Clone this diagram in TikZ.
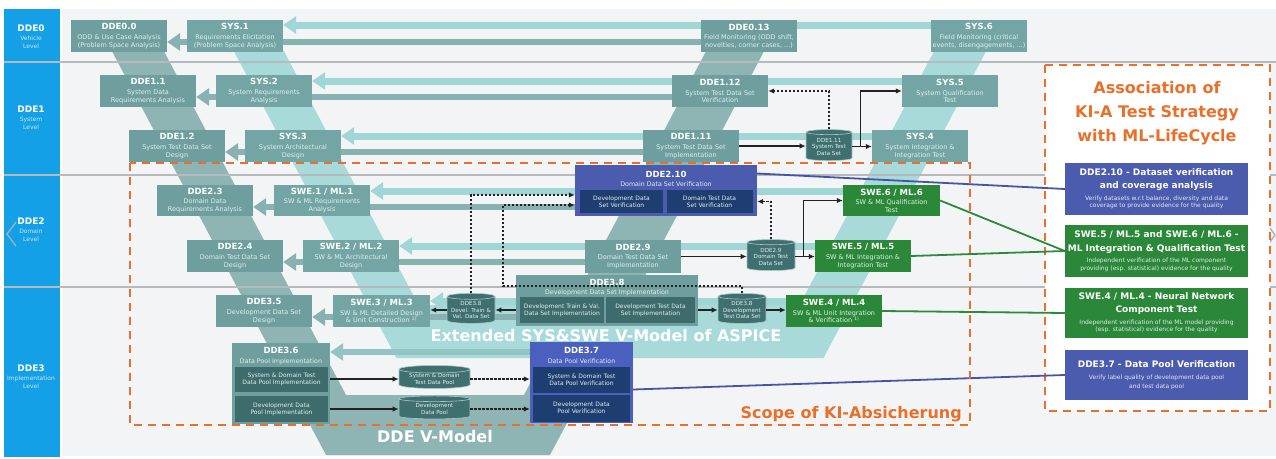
\documentclass[tikz,border=0pt]{standalone}
\usepackage{fontspec}
\setmainfont{DejaVu Sans}
\usetikzlibrary{arrows.meta,shapes.geometric,calc}

% palette
\definecolor{panel}{HTML}{F3F4F5}
\definecolor{colblue}{HTML}{14A0E6}
\definecolor{colsub}{HTML}{C8E8FA}
\definecolor{levelline}{HTML}{B5BABE}
\definecolor{ddeband}{HTML}{8FB4B4}
\definecolor{sysband}{HTML}{A8DADA}
\definecolor{boxfill}{HTML}{6F9E9E}
\definecolor{sysfill}{HTML}{73A5A4}
\definecolor{subtxt}{HTML}{E2EEEE}
\definecolor{lightarr}{HTML}{A0D6D6}
\definecolor{darkarr}{HTML}{88B1B1}
\definecolor{midarr}{HTML}{92C4C4}
\definecolor{cylfill}{HTML}{3F6F6F}
\definecolor{cylline}{HTML}{A9C7C7}
\definecolor{innerfill}{HTML}{3E6C6C}
\definecolor{verblue}{HTML}{4B5BAD}
\definecolor{verbluetwo}{HTML}{4B5FBE}
\definecolor{navyfill}{HTML}{1E3D70}
\definecolor{mlgreen}{HTML}{2A8838}
\definecolor{kiorange}{HTML}{E8702A}
\definecolor{linkblue}{HTML}{4654A8}
\definecolor{linkgreen}{HTML}{2B8A3C}
\definecolor{conn}{HTML}{222222}
\definecolor{notetxt}{HTML}{E4E8F4}
\definecolor{chevron}{HTML}{9FB2C2}

\newcommand\boxtitle[1]{{\fontsize{8.5}{9}\selectfont\bfseries #1}}
\newcommand\boxsub[1]{{\color{subtxt}#1}}
\newcommand\lvltitle[1]{{\fontsize{9}{10}\selectfont\bfseries #1}}
\newcommand\lvlsub[1]{{\color{colsub}#1}}
\newcommand\assochead[1]{{\fontsize{9}{10}\selectfont\bfseries #1}}
\newcommand\assocnote[1]{{\color{notetxt}#1}}

% drawing layers: panel and bands, wide flow arrows, everything else
\pgfdeclarelayer{bottom}
\pgfdeclarelayer{arrowlayer}
\pgfsetlayers{bottom,arrowlayer,main}

\tikzset{
  vbox/.style={rectangle, fill=boxfill, text=white, inner sep=0pt, align=center,
    minimum width=96pt, minimum height=32pt, font=\fontsize{6.5}{7.6}\selectfont},
  sysbox/.style={vbox, fill=sysfill},
  mlbox/.style={vbox, fill=mlgreen},
  framebox/.style={rectangle, inner sep=0pt},
  caption/.style={inner sep=0pt, text=white, font=\fontsize{6.3}{7}\selectfont},
  innerbox/.style={rectangle, fill=innerfill, text=subtxt, inner sep=0pt, align=center,
    font=\fontsize{6}{7.2}\selectfont},
  navybox/.style={innerbox, fill=navyfill},
  store/.style={cylinder, shape border rotate=90, aspect=0.15, fill=cylfill, draw=cylline,
    line width=0.6pt, text=subtxt, inner sep=0pt, align=center, font=\fontsize{5.6}{6.5}\selectfont},
  flow/.style={draw=conn, line width=1.2pt, -{Latex[length=6pt,width=5.5pt]}},
  trace/.style={flow, dash pattern=on 2.4pt off 1.6pt},
  lightflow/.style={draw=lightarr, line width=7pt, -{Triangle[length=13pt,width=17pt]}},
  darkflow/.style={draw=darkarr, line width=6pt, -{Triangle[length=13pt,width=17pt]}},
  scopeline/.style={draw=kiorange, line width=2.5pt, dash pattern=on 8pt off 6pt},
  levelrule/.style={draw=levelline, line width=1.4pt},
  lvl/.style={inner sep=0pt, align=center, text=white, font=\fontsize{6}{8.5}\selectfont},
  assoc/.style={rectangle, fill=verblue, text=white, inner sep=0pt, align=center,
    minimum width=183pt, font=\fontsize{6}{7.6}\selectfont},
  bigtext/.style={inner sep=0pt, font=\fontsize{16}{24}\selectfont\bfseries},
}

\begin{document}
\begin{tikzpicture}[x=1pt,y=-1pt]
\useasboundingbox (0,0) rectangle (1276,458);

\begin{pgfonlayer}{bottom}
\fill[white] (0,0) rectangle (1276,458);
% background panel and level column
\fill[panel] (62,9) rectangle (1276,456);
\fill[colblue] (4,9) rectangle (60,457);
\draw[chevron, line width=1.3pt] (16,222) -- (7,234) -- (16,246);
\draw[chevron, line width=1.3pt] (1267,224) -- (1275,235) -- (1267,246);
% the two V bands
\fill[ddeband] (106,40) -- (158,40) -- (346,395) -- (524,395) -- (712,40) -- (770,40)
  -- (550,455) -- (326,455) -- cycle;
\fill[sysband] (228,40) -- (278,40) -- (418.5,305) -- (799.5,305) -- (940,40) -- (992,40)
  -- (823.5,358) -- (396.5,358) -- cycle;
% level separators
\draw[levelrule] (4,62) -- (1276,62);
\draw[levelrule] (4,175) -- (1276,175);
\draw[levelrule] (4,287) -- (1276,287);
\end{pgfonlayer}

% level labels
\node[lvl] (lv0) at (31,37) {\lvltitle{DDE0}\\\lvlsub{Vehicle}\\\lvlsub{Level}};
\node[lvl] (lv1) at (31,118) {\lvltitle{DDE1}\\\lvlsub{System}\\\lvlsub{Level}};
\node[lvl] (lv2) at (31,230) {\lvltitle{DDE2}\\\lvlsub{Domain}\\\lvlsub{Level}};
\node[lvl] (lv3) at (31,377) {\lvltitle{DDE3}\\\lvlsub{Implementation}\\\lvlsub{Level}};

\node[bigtext, text=white] (vsys) at (606,336) {Extended SYS\&SWE V-Model of ASPICE};
\node[bigtext, text=white] (vdde) at (435,437) {DDE V-Model};

% ---------- boxes ----------
\node[vbox] (dde00) at (119,36) {\boxtitle{DDE0.0}\\[2pt]\boxsub{ODD \& Use Case Analysis}\\\boxsub{(Problem Space Analysis)}};
\node[sysbox] (sys1) at (235,36) {\boxtitle{SYS.1}\\[2pt]\boxsub{Requirements Elicitation}\\\boxsub{(Problem Space Analysis)}};
\node[vbox] (dde013) at (749,36) {\boxtitle{DDE0.13}\\[2pt]\boxsub{Field Monitoring (ODD shift,}\\\boxsub{novelties, corner cases, ...)}};
\node[sysbox] (sys6) at (979,36) {\boxtitle{SYS.6}\\[2pt]\boxsub{Field Monitoring (critical}\\\boxsub{events, disengagements, ...)}};

\node[vbox] (dde11) at (148,91) {\boxtitle{DDE1.1}\\[2pt]\boxsub{System Data}\\\boxsub{Requirements Analysis}};
\node[sysbox] (sys2) at (264,91) {\boxtitle{SYS.2}\\[2pt]\boxsub{System Requirements}\\\boxsub{Analysis}};
\node[vbox] (dde112) at (720,91) {\boxtitle{DDE1.12}\\[2pt]\boxsub{System Test Data Set}\\\boxsub{Verification}};
\node[sysbox] (sys5) at (950,91) {\boxtitle{SYS.5}\\[2pt]\boxsub{System Qualification}\\\boxsub{Test}};

\node[vbox] (dde12) at (177,146) {\boxtitle{DDE1.2}\\[2pt]\boxsub{System Test Data Set}\\\boxsub{Design}};
\node[sysbox] (sys3) at (293,146) {\boxtitle{SYS.3}\\[2pt]\boxsub{System Architectural}\\\boxsub{Design}};
\node[vbox] (dde111) at (691,146) {\boxtitle{DDE1.11}\\[2pt]\boxsub{System Test Data Set}\\\boxsub{Implementation}};
\node[store, minimum width=46pt, minimum height=31pt] (cylA) at (829,146.5) {DDE1.11\\System Test\\Data Set};
\node[sysbox] (sys4) at (920,146) {\boxtitle{SYS.4}\\[2pt]\boxsub{System Integration \&}\\\boxsub{Integration Test}};

\node[vbox, minimum height=31pt] (dde23) at (205,200.5) {\boxtitle{DDE2.3}\\[2pt]\boxsub{Domain Data}\\\boxsub{Requirements Analysis}};
\node[sysbox, minimum height=31pt] (swe1) at (322,200.5) {\boxtitle{SWE.1 / ML.1}\\[2pt]\boxsub{SW \& ML Requirements}\\\boxsub{Analysis}};
\node[framebox, fill=verblue, minimum width=182pt, minimum height=51pt] (dde210) at (666,190.5) {};
\node[caption] (dde210t) at (666,174) {\boxtitle{DDE2.10}};
\node[caption] (dde210s) at (666,184.5) {\boxsub{Domain Data Set Verification}};
\node[navybox, minimum width=83pt, minimum height=23pt] (dde210a) at (621.5,201.5) {Development Data\\Set Verification};
\node[navybox, minimum width=86pt, minimum height=23pt] (dde210b) at (709.5,201.5) {Domain Test Data\\Set Verification};
\node[mlbox, minimum width=97pt, minimum height=31pt] (swe6) at (891.5,200.5) {\boxtitle{SWE.6 / ML.6}\\[2pt]\boxsub{SW \& ML Qualification}\\\boxsub{Test}};

\node[vbox] (dde24) at (235,256) {\boxtitle{DDE2.4}\\[2pt]\boxsub{Domain Test Data Set}\\\boxsub{Design}};
\node[sysbox] (swe2) at (351,256) {\boxtitle{SWE.2 / ML.2}\\[2pt]\boxsub{SW \& ML Architectural}\\\boxsub{Design}};
\node[vbox, minimum height=33pt] (dde29) at (633,256.5) {\boxtitle{DDE2.9}\\[2pt]\boxsub{Domain Test Data Set}\\\boxsub{Implementation}};
\node[store, minimum width=48pt, minimum height=31pt] (cylB) at (771,256.5) {DDE2.9\\Domain Test\\Data Set};
\node[mlbox] (swe5) at (863,256) {\boxtitle{SWE.5 / ML.5}\\[2pt]\boxsub{SW \& ML Integration \&}\\\boxsub{Integration Test}};

\node[vbox] (dde35) at (264,311) {\boxtitle{DDE3.5}\\[2pt]\boxsub{Development Data Set}\\\boxsub{Design}};
\node[sysbox, minimum width=97pt] (swe3) at (381.5,311) {\boxtitle{SWE.3 / ML.3}\\[2pt]\boxsub{SW \& ML Detailed Design}\\\boxsub{\& Unit Construction \textsuperscript{1)}}};
\node[store, minimum width=48pt, minimum height=30pt] (cylC) at (471,310) {DDE3.8\\Devel. Train \&\\Val. Data Set};
\node[framebox, fill=boxfill, minimum width=182pt, minimum height=51pt] (dde38) at (607,300.5) {};
\node[caption] (dde38t) at (607,282) {\boxtitle{DDE3.8}};
\node[caption] (dde38s) at (607,293) {\boxsub{Development Data Set Implementation}};
\node[innerbox, minimum width=84pt, minimum height=26pt] (dde38a) at (562,310) {Development Train \& Val.\\Data Set Implementation};
\node[innerbox, minimum width=89pt, minimum height=26pt] (dde38b) at (650.5,310) {Development Test Data\\Set Implementation};
\node[store, minimum width=48pt, minimum height=30pt] (cylD) at (742,310) {DDE3.8\\Development\\Test Data Set};
\node[mlbox] (swe4) at (834,311) {\boxtitle{SWE.4 / ML.4}\\[2pt]\boxsub{SW \& ML Unit Integration}\\\boxsub{\& Verification \textsuperscript{1)}}};

\node[framebox, fill=boxfill, minimum width=98pt, minimum height=81pt] (dde36) at (281,383.5) {};
\node[caption] (dde36t) at (281,350) {\boxtitle{DDE3.6}};
\node[caption] (dde36s) at (281,361.5) {\boxsub{Data Pool Implementation}};
\node[innerbox, minimum width=93pt, minimum height=25pt] (dde36a) at (281.5,379.5) {System \& Domain Test\\Data Pool Implementation};
\node[innerbox, minimum width=93pt, minimum height=26pt] (dde36b) at (281.5,409) {Development Data\\Pool Implementation};
\node[store, minimum width=71pt, minimum height=23pt] (cylE) at (434.5,379) {System \& Domain\\Test Data Pool};
\node[store, minimum width=71pt, minimum height=23pt] (cylF) at (434.5,409) {Development\\Data Pool};
\node[framebox, fill=verbluetwo, minimum width=103pt, minimum height=81pt] (dde37) at (581.5,382.5) {};
\node[caption] (dde37t) at (581.5,350) {\boxtitle{DDE3.7}};
\node[caption] (dde37s) at (581.5,361) {\boxsub{Data Pool Verification}};
\node[navybox, minimum width=97pt, minimum height=26pt] (dde37a) at (581.5,379.5) {System \& Domain Test\\Data Pool Verification};
\node[navybox, minimum width=97pt, minimum height=27pt] (dde37b) at (581.5,408) {Development Data\\Pool Verification};

% ---------- wide flow arrows, right side back to left side (behind the boxes) ----------
\begin{pgfonlayer}{arrowlayer}
\draw[lightflow] (sys6.west |- 0,25) -- (sys1.east |- 0,25);
\draw[darkflow] (dde013.west |- 0,42) -- (dde00.east |- 0,42);
\draw[lightflow] (sys5.west |- 0,81) -- (sys2.east |- 0,81);
\draw[darkflow] (dde112.west |- 0,97) -- (dde11.east |- 0,97);
\draw[lightflow] (sys4.west |- 0,136) -- (sys3.east |- 0,136);
\draw[darkflow] (dde111.west |- 0,152) -- (dde12.east |- 0,152);
\draw[lightflow] (swe6.west |- 0,191) -- (swe1.east |- 0,191);
\draw[darkflow] (dde210.west |- 0,207) -- (dde23.east |- 0,207);
\draw[lightflow] (swe5.west |- 0,246) -- (swe2.east |- 0,246);
\draw[darkflow] (dde29.west |- 0,262) -- (dde24.east |- 0,262);
\draw[lightflow] (swe4.west |- 0,301) -- (swe3.east |- 0,301);
\draw[darkflow] (dde38.west |- 0,317) -- (dde35.east |- 0,317);
\draw[darkflow, draw=midarr] (dde37.west |- 0,352) -- (dde36.east |- 0,352);
\end{pgfonlayer}

% ---------- connectors ----------
\draw[flow] (dde111.east) -- (dde111.east -| cylA.west);
\draw[flow] (cylA.east) -- (cylA.east -| sys4.west);
\draw[flow] (cylA.east) -- ++(8,0) |- (sys5.west);
\draw[trace] (cylA.north) |- (dde112.east);

\draw[flow] (dde29.east) -- (dde29.east -| cylB.west);
\draw[flow] (cylB.east) -- (cylB.east -| swe5.west);
\draw[flow] (cylB.east) -- ++(8,0) |- (swe6.west);
\coordinate (in210r) at (dde210.east |- dde210b.center);
\draw[trace] (cylB.north) |- (in210r);

\draw[flow] (dde38.west |- cylC.east) -- (cylC.east);
\draw[flow] (cylC.west) -- (cylC.west -| swe3.east);
\draw[flow] (dde38.east |- cylD.west) -- (cylD.west);
\draw[flow] (cylD.east) -- (cylD.east -| swe4.west);
\coordinate (in210a) at ($(dde210.west)+(0,4.5)$);
\coordinate (in210b) at ($(dde210.west)+(0,14.5)$);
\coordinate (bend38) at (503,286);
\draw[trace] (cylC.north) |- (in210a);
\draw[trace] (cylD.north) |- (bend38) |- (in210b);

\draw[flow] (dde36.east |- cylE.west) -- (cylE.west);
\draw[flow] (dde36.east |- cylF.west) -- (cylF.west);
\draw[trace] (cylE.east) -- (cylE.east -| dde37.west);
\draw[trace] (cylF.east) -- (cylF.east -| dde37.west);

% ---------- association panel ----------
\draw[scopeline, fill=white] (1045,65) rectangle (1270,411);
\node[bigtext, text=kiorange, align=center] (atitle) at (1157,113) {Association of\\KI-A Test Strategy\\with ML-LifeCycle};
\node[assoc, minimum height=52pt] (a1) at (1156.5,189) {\assochead{DDE2.10 - Dataset verification}\\[5pt]\assochead{and coverage analysis}\\[4pt]\assocnote{Verify datasets w.r.t balance, diversity and data}\\\assocnote{coverage to provide evidence for the quality}};
\node[assoc, fill=mlgreen, minimum height=52pt] (a2) at (1156.5,251) {\assochead{SWE.5 / ML.5 and SWE.6 / ML.6 -}\\[5pt]\assochead{ML Integration \& Qualification Test}\\[4pt]\assocnote{Independent verification of the ML component}\\\assocnote{providing (esp. statistical) evidence for the quality}};
\node[assoc, fill=mlgreen, minimum height=50pt] (a3) at (1156.5,313) {\assochead{SWE.4 / ML.4 - Neural Network}\\[5pt]\assochead{Component Test}\\[4pt]\assocnote{Independent verification of the ML model providing}\\\assocnote{(esp. statistical) evidence for the quality}};
\node[assoc, minimum height=50pt] (a4) at (1156.5,375) {\assochead{DDE3.7 - Data Pool Verification}\\[4pt]\assocnote{Verify label quality of development data pool}\\[1.5pt]\assocnote{and test data pool}};

\draw[linkblue, line width=1.8pt] ($(dde210.east)+(0,-17)$) -- (a1.west);
\draw[linkgreen, line width=1.8pt] (swe6.east) -- (a2.west);
\draw[linkgreen, line width=1.8pt] (swe5.east) -- (a2.west);
\draw[linkgreen, line width=1.8pt] (swe4.east) -- (a3.west);
\draw[linkblue, line width=1.8pt] ($(dde37.east)+(0,7)$) -- (a4.west);

% scope frame
\draw[scopeline] (130,163) rectangle (970,425);
\node[bigtext, text=kiorange, anchor=east] (scope) at (962,414) {Scope of KI-Absicherung};
\end{tikzpicture}
\end{document}
